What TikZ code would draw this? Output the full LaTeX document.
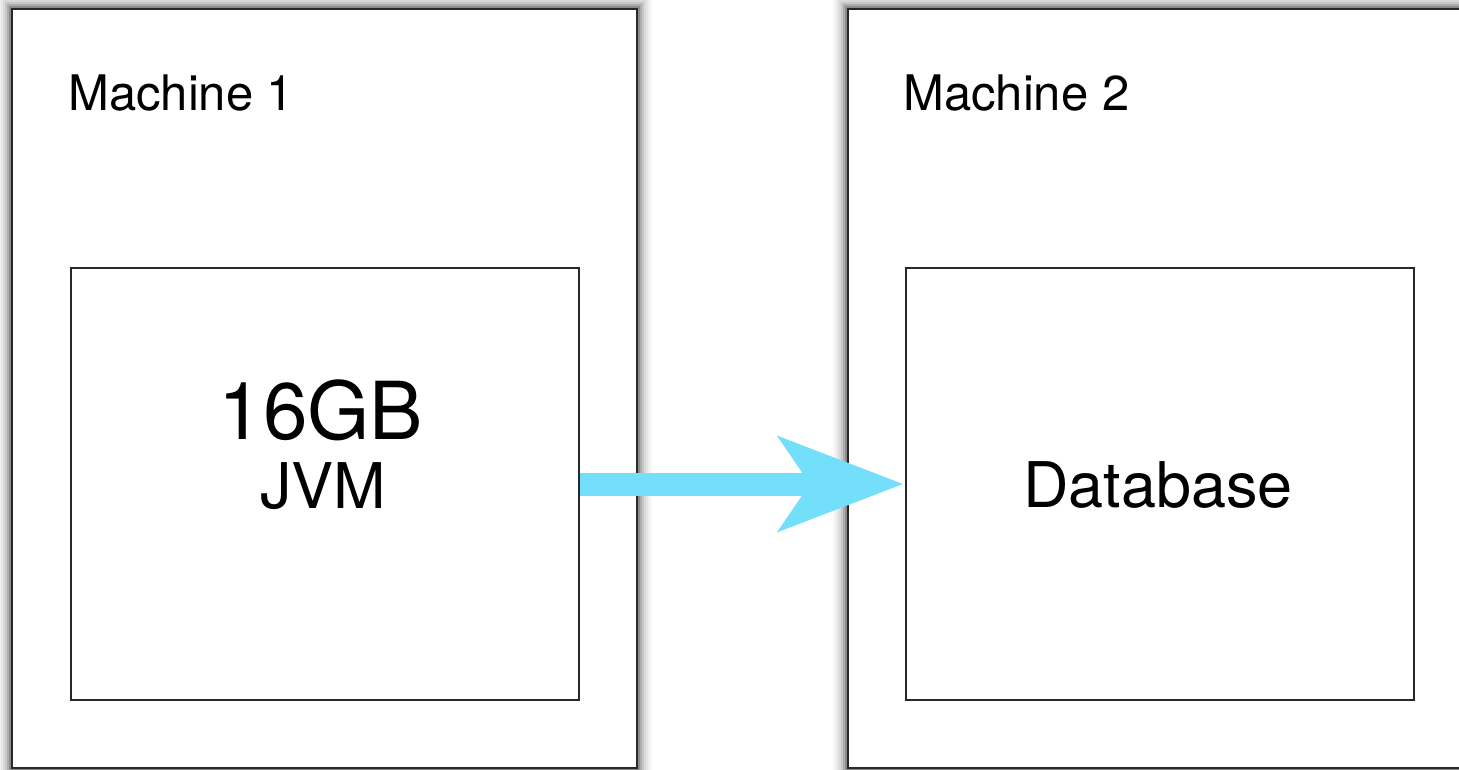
\documentclass[tikz,border=0pt]{standalone}
\usepackage{fontspec}
\setmainfont{TeX Gyre Heros}
\usetikzlibrary{arrows.meta}
\definecolor{arrowblue}{RGB}{116,223,250}
\definecolor{edge}{RGB}{40,40,40}
\tikzset{
  machine/.style={draw=edge, line width=2.6pt, fill=white, minimum width=#1, minimum height=759pt, inner sep=0pt},
  inner/.style={draw=edge, line width=2.3pt, minimum width=508pt, minimum height=432pt, inner sep=0pt},
  lbl/.style={inner sep=0pt, anchor=base west, font=\fontsize{49}{52}\selectfont},
  txt/.style={inner sep=0pt, anchor=base, font=\fontsize{#1}{#1}\selectfont},
  flow/.style={draw=arrowblue, line width=23pt, -{Stealth[length=126pt,width=97pt,inset=33pt,line width=0pt]}},
}
\begin{document}
\begin{tikzpicture}[x=1pt,y=-1pt]
\useasboundingbox (0,0) rectangle (1459,770);
% soft shadows
\foreach \d/\c in {14/3,12/6,10/10,8/15,6/22,4/32,2/45}{
  \draw[black!\c, line width=2pt] (12-\d,9-\d) rectangle (637+\d,768+\d);
  \draw[black!\c, line width=2pt] (848-\d,9-\d) rectangle (1480+\d,768+\d);
}
\node[machine=625pt] (m1) at (324.5,388.5) {};
\node[machine=632pt] (m2) at (1164,388.5) {};
\node[lbl] (m1l) at (68,111) {Machine 1};
\node[lbl] (m2l) at (903,111) {Machine 2};
\node[inner] (jvm) at (325,484) {};
\node[inner] (db) at (1160,484) {};
\node[txt=80] (gb) at (321,439) {16GB};
\node[txt=63] (jv) at (323,508) {JVM};
\node[txt=63] (dbl) at (1158,507) {Database};
\draw[flow] (jvm.east) -- ([xshift=-2pt]db.west);
\end{tikzpicture}
\end{document}
